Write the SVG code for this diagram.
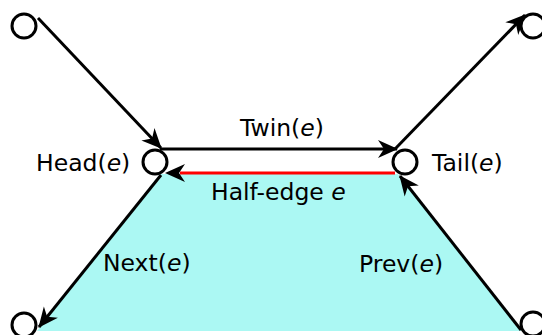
<svg xmlns="http://www.w3.org/2000/svg" width="542" height="335" viewBox="0 0 542 335">
<style>
.n{fill:#fff;stroke:#000;stroke-width:3}
.e{fill:none;stroke:#000;stroke-width:3;marker-end:url(#ah)}
.t{font-family:"DejaVu Sans",sans-serif;font-size:23.5px;fill:#000}
.i{font-style:italic}
</style>
<defs>
<marker id="ah" markerUnits="userSpaceOnUse" markerWidth="26" markerHeight="26" viewBox="-22 -11 26 22" refX="0" refY="0" orient="auto" overflow="visible">
<path d="M1,0 L-19,-9 L-13,0 L-19,9 Z" fill="#000"/>
</marker>
</defs>
<polygon points="160,174 398,174 522,331 37,331" fill="#abf8f3"/>
<g id="connectors">
<line class="e" x1="38" y1="18" x2="161" y2="148"/>
<line class="e" x1="160" y1="149" x2="397" y2="149"/>
<line class="e" x1="395" y1="149" x2="525" y2="15"/>
<line x1="395" y1="173" x2="180" y2="173" stroke="#f00" stroke-width="3"/>
<line x1="185" y1="173" x2="166" y2="173" stroke="none" stroke-width="3" marker-end="url(#ah)"/>
<line class="e" x1="161" y1="175" x2="39" y2="327"/>
<line class="e" x1="521" y1="330" x2="400" y2="176"/>
</g>
<g id="n-tl"><circle class="n" cx="24" cy="26" r="12"/></g>
<g id="n-tr"><circle class="n" cx="533" cy="26" r="12"/></g>
<g id="n-head"><circle class="n" cx="155" cy="162" r="12"/></g>
<g id="n-tail"><circle class="n" cx="405" cy="162" r="12"/></g>
<g id="n-bl"><circle class="n" cx="24" cy="325" r="12"/></g>
<g id="n-br"><circle class="n" cx="533" cy="324" r="12"/></g>
<g id="labels">
<text class="t" x="36" y="171">Head(<tspan class="i">e</tspan>)</text>
<text class="t" x="240" y="136">Twin(<tspan class="i">e</tspan>)</text>
<text class="t" x="211" y="200">Half-edge <tspan class="i">e</tspan></text>
<text class="t" x="432" y="171">Tail(<tspan class="i">e</tspan>)</text>
<text class="t" x="103" y="271">Next(<tspan class="i">e</tspan>)</text>
<text class="t" x="359" y="272">Prev(<tspan class="i">e</tspan>)</text>
</g>
</svg>
